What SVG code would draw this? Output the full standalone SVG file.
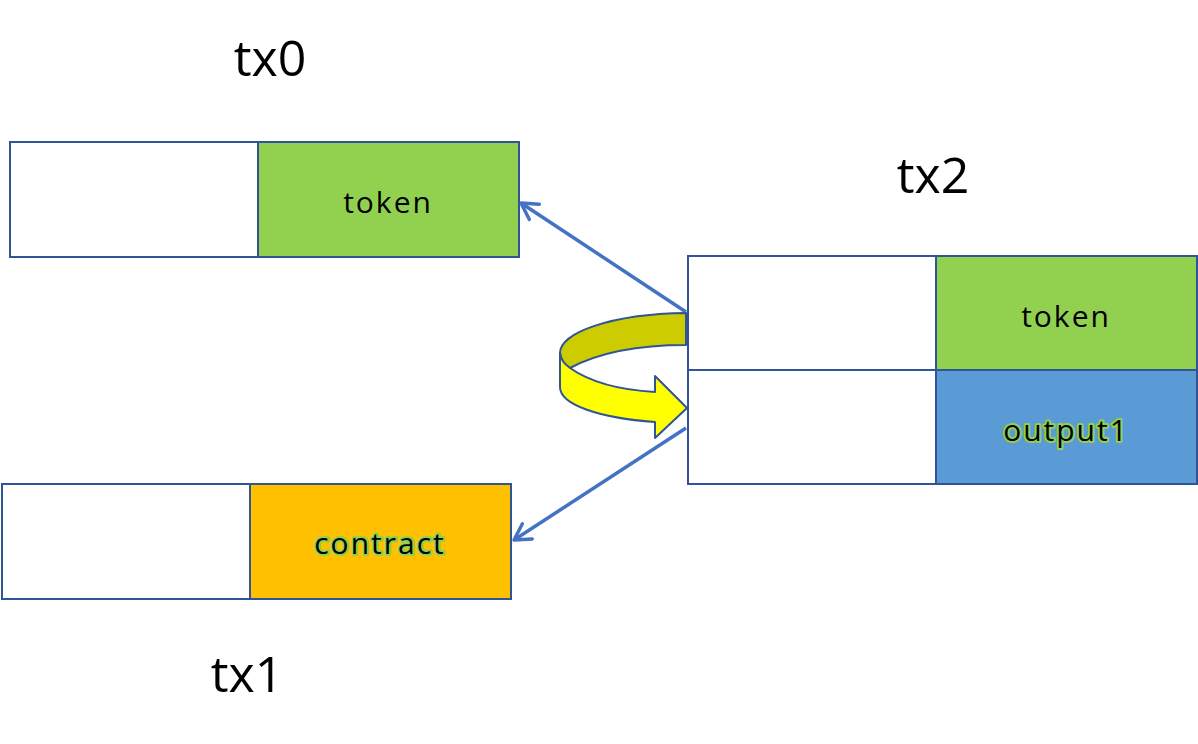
<svg xmlns="http://www.w3.org/2000/svg" width="1198" height="744" viewBox="0 0 1198 744">
<style>
.cell{stroke:#2F5597;stroke-width:2}
.lbl{font-family:"Open Sans","Noto Sans",sans-serif;font-size:30px;letter-spacing:2px;text-anchor:middle;fill:#000}
.glow{stroke:#92D050;stroke-width:4;paint-order:stroke;stroke-linejoin:round}
.title{font-family:"Open Sans","Noto Sans",sans-serif;font-size:50px;text-anchor:middle;fill:#000}
.conn{stroke:#4472C4;stroke-width:3.5;fill:none;marker-end:url(#open)}
</style>
<defs>
<marker id="open" viewBox="0 0 20 20" refX="18" refY="10" markerWidth="6.5" markerHeight="6.5" markerUnits="strokeWidth" orient="auto">
<path d="M4,2 L18,10 L4,18" fill="none" stroke="#4472C4" stroke-width="3" stroke-linecap="round" stroke-linejoin="round"/>
</marker>
</defs>
<rect width="1198" height="744" fill="#fff"/>
<g id="tx0">
<text class="title" x="270" y="76">tx0</text>
<rect class="cell" x="10" y="142" width="248" height="115" fill="#fff"/>
<rect class="cell" x="258" y="142" width="261" height="115" fill="#92D050"/>
<text class="lbl" x="388" y="213">token</text>
</g>
<g id="tx1">
<text class="title" x="247" y="692">tx1</text>
<rect class="cell" x="2" y="484" width="248" height="115" fill="#fff"/>
<rect class="cell" x="250" y="484" width="261" height="115" fill="#FFC000"/>
<text class="lbl glow" x="380" y="554">contract</text>
</g>
<g id="tx2">
<text class="title" x="933" y="193">tx2</text>
<rect class="cell" x="688" y="256" width="248" height="114" fill="#fff"/>
<rect class="cell" x="936" y="256" width="261" height="114" fill="#92D050"/>
<rect class="cell" x="688" y="370" width="248" height="114" fill="#fff"/>
<rect class="cell" x="936" y="370" width="261" height="114" fill="#5B9BD5"/>
<text class="lbl" x="1066" y="327">token</text>
<text class="lbl glow" x="1066" y="441">output1</text>
</g>
<g id="connectors">
<line class="conn" x1="686" y1="312" x2="521" y2="203"/>
<line class="conn" x1="686" y1="428" x2="514" y2="540"/>
</g>
<g id="curved-arrow" stroke="#2F5597" stroke-width="2" stroke-linejoin="round">
<path d="M686,313 C610,314 560,333 560,353 Q561,362 570,368 C600,352 640,345 686,345 Z" fill="#CCCC00"/>
<path d="M560,353 Q561,362 570,368 C590,382 620,390 655,392 L655,376 L687,408 L655,438 L655,422 C600,418 560,405 560,387 Z" fill="#FFFF00"/>
</g>
</svg>
